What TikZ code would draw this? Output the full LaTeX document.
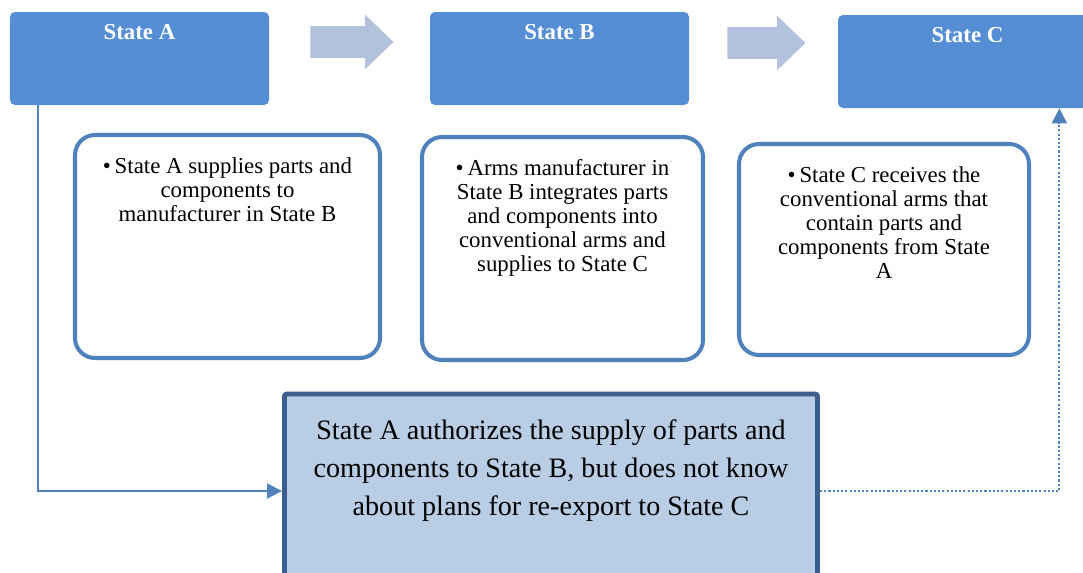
\documentclass[tikz,border=0pt]{standalone}
\usepackage{fontspec}
\setmainfont{Liberation Serif}
\usetikzlibrary{positioning,shapes.arrows,arrows.meta}

\definecolor{stateblue}{RGB}{85,142,213}
\definecolor{arrowgray}{RGB}{179,194,220}
\definecolor{boxline}{RGB}{79,129,189}
\definecolor{notefill}{RGB}{185,205,229}
\definecolor{noteline}{RGB}{59,94,140}

\begin{document}
\begin{tikzpicture}[x=0.2mm, y=-0.2mm,
	st/.style={rectangle, rounded corners=1mm, fill=stateblue, minimum width=51.8mm, minimum height=18.6mm},
	ttl/.style={text=white, font=\fontsize{13}{15}\selectfont\bfseries, inner sep=0pt},
	flow/.style={single arrow, fill=arrowgray, single arrow head extend=2.3mm, single arrow tip angle=88, inner xsep=0pt, inner ysep=3.1mm},
	info/.style={rectangle, draw=boxline, line width=2.3pt, rounded corners=4mm, minimum height=44.6mm},
	txt/.style={align=center, inner sep=0pt, font=\fontsize{13}{13.6}\selectfont},
	link/.style={draw=boxline, line width=1.1pt, -{Triangle[length=3mm,width=3mm]}}]
	\useasboundingbox (0,0) rectangle (1083,572);
	\clip (0,0) rectangle (1083,572);

	% states along the top
	\node[st] (stateA) at (139.5,58.5) {};
	\node[st] (stateB) at (559.5,58.5) {};
	\node[st] (stateC) at (967.5,61.5) {};
	\node[ttl, anchor=base] (titleA) at ([yshift=-5.6mm]stateA.north) {State A};
	\node[ttl, anchor=base] (titleB) at ([yshift=-5.6mm]stateB.north) {State B};
	\node[ttl, anchor=base] (titleC) at ([yshift=-5.6mm]stateC.north) {State C};

	\node[flow, anchor=tail, minimum height=16.6mm] (flowAB) at (310,42) {};
	\node[flow, anchor=tail, minimum height=15.6mm] (flowBC) at (727,43) {};

	% notes under the states
	\node[info, minimum width=61mm] (noteA) at (227.5,246.5) {};
	\node[info, minimum width=56.2mm] (noteB) at (562.5,248.5) {};
	\node[info, minimum width=58mm, minimum height=42.2mm] (noteC) at (884,249.5) {};
	\node[txt, below=4.9mm of noteA.north] (textA) {\textbullet\,State A supplies parts and\\components to\\manufacturer in State B};
	\node[txt, below=4.9mm of noteB.north] (textB) {\textbullet\,Arms manufacturer in\\State B integrates parts\\and components into\\conventional arms and\\supplies to State C};
	\node[txt, below=4.9mm of noteC.north] (textC) {\textbullet\,State C receives the\\conventional arms that\\contain parts and\\components from State\\A};

	\node[rectangle, rounded corners=0.5mm, draw=noteline, fill=notefill, line width=2.8pt, minimum width=106.6mm, minimum height=38.8mm] (authorize) at (551,491) {};
	\node[align=center, inner sep=0pt, font=\fontsize{16}{21.6}\selectfont, below=5.6mm of authorize.north] (authText) {State A authorizes the supply of parts and\\components to State B, but does not know\\about plans for re-export to State C};

	\draw[link] ([xshift=5.6mm]stateA.south west) |- (authorize);
	\draw[link, dash pattern=on 1.2pt off 1.2pt] (authorize) -| ([xshift=-7.6mm]stateC.south east);
\end{tikzpicture}
\end{document}
